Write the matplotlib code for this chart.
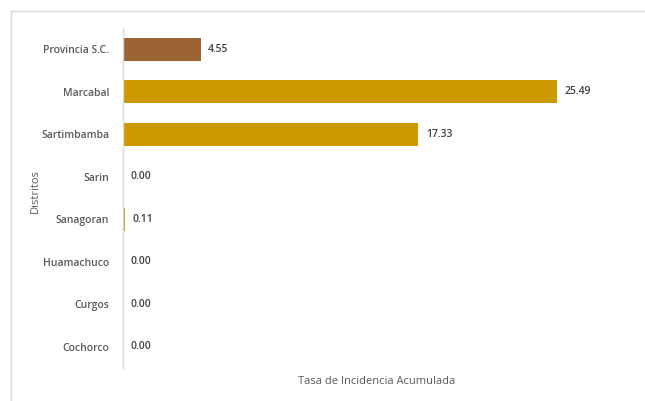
import matplotlib.pyplot as plt
from matplotlib.lines import Line2D

distritos = ["Provincia S.C.", "Marcabal", "Sartimbamba", "Sarin",
             "Sanagoran", "Huamachuco", "Curgos", "Cochorco"]
tasas = [4.55, 25.49, 17.33, 0.00, 0.11, 0.00, 0.00, 0.00]
colores = ["#9C6433"] + ["#CC9900"] * 7

W, H = 645, 401
fig = plt.figure(figsize=(W / 100, H / 100), dpi=100)
plt.rcParams['font.family'] = ['Open Sans', 'DejaVu Sans']

# axes in pixel coords: x 123..617, y 28..368 (from top)
ax = fig.add_axes([123 / W, 1 - 368 / H, (617 - 123) / W, (368 - 28) / H])

y = list(range(len(distritos)))
ax.barh(y, tasas, height=0.55, color=colores, edgecolor="none")
ax.set_ylim(len(distritos) - 0.5, -0.5)
ax.set_xlim(0, 29)

for yi, v in zip(y, tasas):
    ax.text(v + 0.45, yi, f"{v:.2f}", va="center", ha="left",
            fontsize=7.5, color="#404040", fontweight="semibold")

ax.set_yticks(y)
ax.set_yticklabels(distritos, fontsize=7.5, color="#595959",
                   fontweight="semibold")
ax.tick_params(axis="y", length=0, pad=10)
ax.set_xticks([])
for s in ["top", "right", "bottom"]:
    ax.spines[s].set_visible(False)
ax.spines["left"].set_color("#D9D9D9")
ax.spines["left"].set_linewidth(1.0)

fig.text(377 / W, 1 - 381 / H, "Tasa de Incidencia Acumulada",
         ha="center", va="center", fontsize=8, color="#595959")
fig.text(35 / W, 1 - 191 / H, "Distritos", rotation=90,
         ha="center", va="center", fontsize=8, color="#595959")

# outer chart frame (left and top edges only visible)
fig.add_artist(Line2D([11 / W, 11 / W], [0, 1 - 11 / H],
                      transform=fig.transFigure, color="#D9D9D9", lw=1))
fig.add_artist(Line2D([11 / W, 1], [1 - 11 / H, 1 - 11 / H],
                      transform=fig.transFigure, color="#D9D9D9", lw=1))

fig.savefig("out.png", dpi=100)
